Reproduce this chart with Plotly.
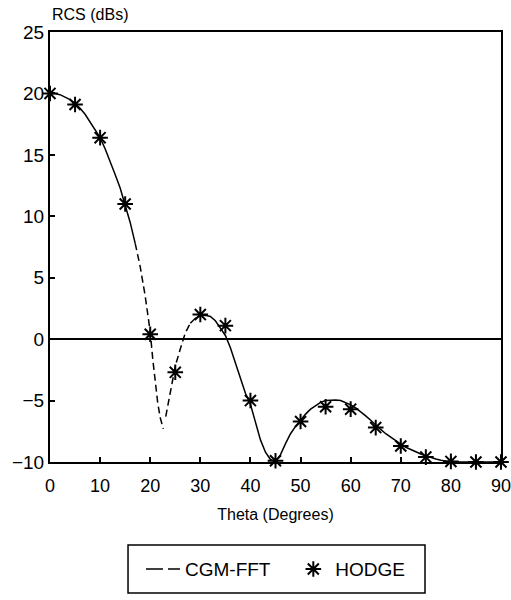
import plotly.graph_objects as go

# CGM-FFT curve (solid part 1, dashed part around the null, solid part 2)
theta_solid1 = [0, 1, 2, 3, 4, 5, 6, 7, 8, 9, 10, 11, 12, 13, 14, 15, 16, 17]
rcs_solid1 = [20.0, 20.0, 19.9, 19.7, 19.5, 19.2, 18.8, 18.3, 17.7, 17.1, 16.4,
              15.5, 14.5, 13.4, 12.3, 11.0, 9.5, 7.8]

theta_dash = [17, 18, 19, 20, 20.5, 21, 21.5, 22, 22.6, None,
              23.1, 23.5, 24, 25, 26, 27, 28]
rcs_dash = [7.8, 5.9, 3.5, 0.6, -1.6, -3.5, -5.2, -6.4, -7.3, None,
            -6.3, -5.4, -4.2, -2.2, -0.8, 0.5, 1.3]

theta_solid2 = [28, 29, 30, 31, 32, 33, 34, 35, 36, 37, 38, 39, 40, 41, 42, 43, 44, 45,
                46, 47, 48, 49, 50, 51, 52, 53, 54, 55, 56, 57, 58, 59, 60, 61, 62, 63,
                64, 65, 66, 67, 68, 69, 70, 71, 72, 73, 74, 75, 76, 77, 78, 79, 80, 85, 90]
rcs_solid2 = [1.3, 1.7, 1.9, 1.95, 1.85, 1.5, 0.9, 0.3, -0.7, -1.9, -3.2, -4.4, -5.3,
              -6.8, -8.2, -9.2, -9.8, -10.0, -9.4, -8.5, -7.7, -7.1, -6.6, -6.1, -5.7,
              -5.4, -5.15, -5.0, -4.95, -4.95, -5.0, -5.15, -5.35, -5.6, -5.9, -6.25,
              -6.6, -7.0, -7.35, -7.7, -8.0, -8.3, -8.55, -8.8, -9.0, -9.2, -9.35, -9.5,
              -9.65, -9.75, -9.85, -9.95, -10.0, -10.0, -10.0]

# HODGE reference points
hodge_theta = [0, 5, 10, 15, 20, 25, 30, 35, 40, 45, 50, 55, 60, 65, 70, 75, 80, 85, 90]
hodge_rcs = [20.0, 19.1, 16.4, 11.0, 0.4, -2.7, 2.0, 1.1, -5.0, -9.9, -6.7, -5.5, -5.7,
             -7.2, -8.7, -9.6, -9.95, -10.0, -10.0]

x_ticks = [0, 10, 20, 30, 40, 50, 60, 70, 80, 90]
y_ticks = [-10, -5, 0, 5, 10, 15, 20, 25]

FONT = "Liberation Sans, Arial, sans-serif"
NBSP = "\u00a0"

fig = go.Figure()
line_style = dict(color="black", width=1.5)

fig.add_trace(go.Scatter(x=theta_solid1, y=rcs_solid1, mode="lines", line=line_style,
                         showlegend=False, hoverinfo="skip"))
fig.add_trace(go.Scatter(x=theta_dash, y=rcs_dash, mode="lines",
                         line=dict(color="black", width=1.5, dash="7px,4px"),
                         showlegend=False, connectgaps=False, hoverinfo="skip"))
fig.add_trace(go.Scatter(x=theta_solid2, y=rcs_solid2, mode="lines", line=line_style,
                         showlegend=False, hoverinfo="skip"))
# legend entry for CGM-FFT
fig.add_trace(go.Scatter(x=[None], y=[None], mode="lines", name="CGM-FFT" + NBSP * 3,
                         line=dict(color="black", width=1.5, dash="17px,5px,12px,60px")))
fig.add_trace(go.Scatter(x=hodge_theta, y=hodge_rcs, mode="markers", name="HODGE",
                         marker=dict(symbol="asterisk-open", size=13, color="black",
                                     line=dict(color="black", width=2)),
                         cliponaxis=False))

fig.update_layout(
    width=511, height=600,
    margin=dict(l=50, r=10, t=32, b=138, autoexpand=False),
    plot_bgcolor="white", paper_bgcolor="white",
    legend=dict(orientation="h", x=0.5, xanchor="center", y=-0.205, yanchor="top",
                borderwidth=0, bgcolor="rgba(0,0,0,0)",
                font=dict(family=FONT, size=19, color="black"),
                itemwidth=34),
    xaxis=dict(range=[0, 90], tickvals=x_ticks, ticks="inside", ticklen=5,
               tickwidth=1.5, tickcolor="black", showline=True, linecolor="black",
               linewidth=2, mirror=True, showgrid=False, zeroline=False,
               automargin=False,
               ticklabeloverflow="allow", ticklabelstandoff=6,
               tickfont=dict(family=FONT, size=18, color="black"),
               title=dict(text="Theta (Degrees)", standoff=14,
                          font=dict(family=FONT, size=16, color="black"))),
    yaxis=dict(range=[-10, 25], tickvals=y_ticks, ticks="inside", ticklen=5,
               tickwidth=1.5, tickcolor="black", showline=True, linecolor="black",
               linewidth=2, mirror=True, showgrid=False, zeroline=True,
               zerolinecolor="black", zerolinewidth=2, automargin=False,
               tickfont=dict(family=FONT, size=19, color="black")),
    annotations=[dict(text="RCS (dBs)", xref="paper", yref="paper", x=0, y=1,
                      xanchor="left", yanchor="bottom", showarrow=False, yshift=7,
                      font=dict(family=FONT, size=16, color="black"))],
    shapes=[dict(type="rect", xref="paper", yref="paper",
                 x0=0.173, x1=0.8315, y0=-0.3047, y1=-0.193,
                 line=dict(color="black", width=1.5), fillcolor="rgba(0,0,0,0)",
                 layer="above")],
)

fig.write_html("out.html")
